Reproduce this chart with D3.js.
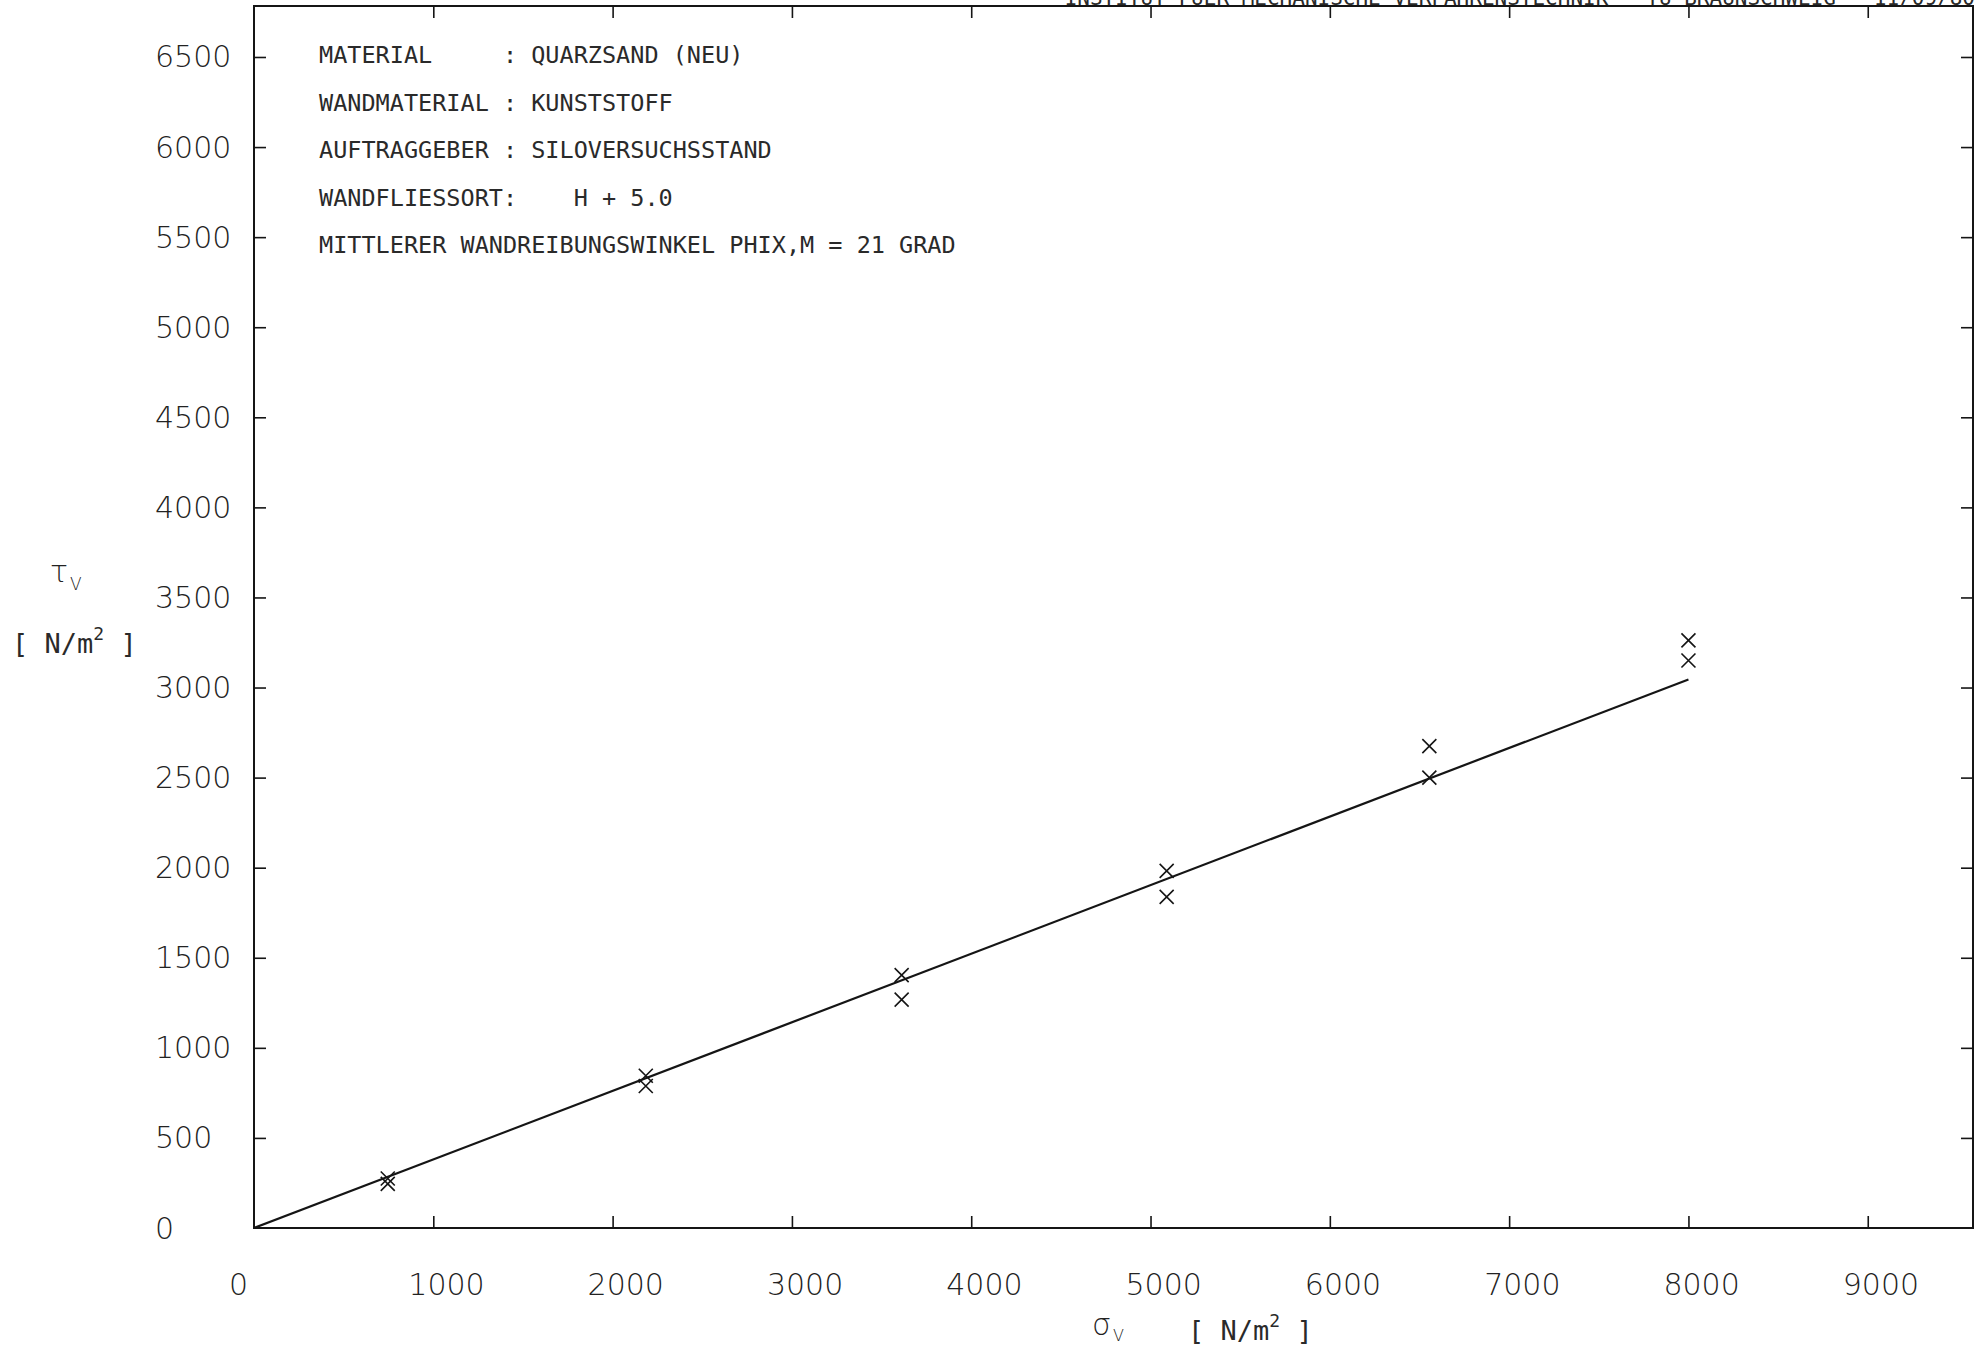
<!DOCTYPE html>
<html>
<head>
<meta charset="utf-8">
<script src="https://cdn.jsdelivr.net/npm/d3@7/dist/d3.min.js"></script>
<style>
  html, body { margin: 0; padding: 0; background: #fff; }
  svg { display: block; }
  .tick-label { font-family: "DejaVu Sans", sans-serif; font-weight: 200; font-stretch: condensed; font-size: 30px; fill: #222; }
  .mono { font-family: "DejaVu Sans Mono", "Liberation Mono", monospace; fill: #2a2a2a; }
</style>
</head>
<body>
<script>
// ---- Data ----
const sigmaV = [746, 746, 2185, 2185, 3612, 3612, 5090, 5090, 6555, 6555, 8000, 8000];
const tauV   = [275, 245, 845, 788, 1404, 1268, 1982, 1838, 2675, 2500, 3262, 3150];
const fitSigma = [0, 8000];
const fitTau   = [0, 3045];
const xTicks = [1000, 2000, 3000, 4000, 5000, 6000, 7000, 8000, 9000];
const yTicks = [500, 1000, 1500, 2000, 2500, 3000, 3500, 4000, 4500, 5000, 5500, 6000, 6500];
const xTickLabels = ["0", "1000", "2000", "3000", "4000", "5000", "6000", "7000", "8000", "9000"];
const yTickLabels = ["0", "500", "1000", "1500", "2000", "2500", "3000", "3500", "4000", "4500", "5000", "5500", "6000", "6500"];
const infoLines = [
  "MATERIAL     : QUARZSAND (NEU)",
  "WANDMATERIAL : KUNSTSTOFF",
  "AUFTRAGGEBER : SILOVERSUCHSSTAND",
  "WANDFLIESSORT:    H + 5.0",
  "MITTLERER WANDREIBUNGSWINKEL PHIX,M = 21 GRAD"
];
const headerText = "INSTITUT FUER MECHANISCHE VERFAHRENSTECHNIK - TU BRAUNSCHWEIG - 11/09/80";

// ---- Layout ----
const W = 1983, H = 1350;
const pLeft = 254, pRight = 1973, pTop = 6, pBottom = 1228;

const svg = d3.select("body").append("svg").attr("width", W).attr("height", H);

const x = d3.scaleLinear().domain([0, 9587]).range([pLeft, pRight]);
const y = d3.scaleLinear().domain([0, 6783]).range([pBottom, pTop]);

const ink = "#151515";

// frame
svg.append("rect").attr("x", pLeft).attr("y", pTop)
  .attr("width", pRight - pLeft).attr("height", pBottom - pTop)
  .attr("fill", "none").attr("stroke", ink).attr("stroke-width", 2);

// axes with inward ticks
const tl = 12;
function styleAxis(g) {
  g.select(".domain").remove();
  g.selectAll("line").attr("stroke", ink).attr("stroke-width", 1.6);
}
svg.append("g").attr("transform", `translate(0,${pBottom})`)
  .call(d3.axisTop(x).tickValues(xTicks).tickSize(tl).tickFormat(""))
  .call(styleAxis);
svg.append("g").attr("transform", `translate(0,${pTop})`)
  .call(d3.axisBottom(x).tickValues(xTicks).tickSize(tl).tickFormat(""))
  .call(styleAxis);
svg.append("g").attr("transform", `translate(${pLeft},0)`)
  .call(d3.axisRight(y).tickValues(yTicks).tickSize(tl).tickFormat(""))
  .call(styleAxis);
svg.append("g").attr("transform", `translate(${pRight},0)`)
  .call(d3.axisLeft(y).tickValues(yTicks).tickSize(tl).tickFormat(""))
  .call(styleAxis);

// tick labels (plotter style, left aligned)
const xLabelVals = [0].concat(xTicks);
svg.append("g").selectAll("text").data(xLabelVals).join("text")
  .attr("class", "tick-label")
  .attr("x", d => x(d) - 25)
  .attr("y", 1284)
  .attr("dominant-baseline", "central")
  .text((d, i) => xTickLabels[i]);

const yLabelVals = [0].concat(yTicks);
svg.append("g").selectAll("text").data(yLabelVals).join("text")
  .attr("class", "tick-label")
  .attr("x", 155)
  .attr("y", d => y(d))
  .attr("dominant-baseline", "central")
  .text((d, i) => yTickLabels[i]);

// header (cut off at top, as on the original plot)
svg.append("text").attr("class", "mono")
  .attr("x", 1975).attr("y", 5).attr("text-anchor", "end")
  .attr("font-size", 21).text(headerText);

// info text
svg.append("g").selectAll("text").data(infoLines).join("text")
  .attr("class", "mono")
  .attr("xml:space", "preserve")
  .style("white-space", "pre")
  .attr("x", 319)
  .attr("y", (d, i) => 63 + i * 47.5)
  .attr("font-size", 23.5)
  .text(d => d);

// axis titles
const yt = svg.append("text").attr("class", "tick-label").attr("x", 50).attr("y", 582);
yt.append("tspan").text("τ");
yt.append("tspan").attr("font-size", 17).attr("dy", 8).attr("dx", 2).text("V");
const yu = svg.append("text").attr("class", "mono").attr("font-size", 27)
  .attr("xml:space", "preserve").style("white-space", "pre")
  .attr("x", 12).attr("y", 653);
yu.append("tspan").text("[ N/m");
yu.append("tspan").attr("font-size", 18).attr("dy", -13).text("2");
yu.append("tspan").attr("dy", 13).text(" ]");

const xt = svg.append("text").attr("class", "tick-label").attr("x", 1092).attr("y", 1335);
xt.append("tspan").text("σ");
xt.append("tspan").attr("font-size", 16).attr("dy", 6).attr("dx", 2).text("V");
const xu = svg.append("text").attr("class", "mono").attr("font-size", 27)
  .attr("xml:space", "preserve").style("white-space", "pre")
  .attr("x", 1188).attr("y", 1340);
xu.append("tspan").text("[ N/m");
xu.append("tspan").attr("font-size", 18).attr("dy", -13).text("2");
xu.append("tspan").attr("dy", 13).text(" ]");

// fit line
const line = d3.line().x(d => x(d[0])).y(d => y(d[1]));
svg.append("path")
  .datum(fitSigma.map((s, i) => [s, fitTau[i]]))
  .attr("d", line).attr("fill", "none").attr("stroke", ink).attr("stroke-width", 2.2);

// data markers (X)
const r = 7;
const pts = sigmaV.map((s, i) => [s, tauV[i]]);
svg.append("g").selectAll("path").data(pts).join("path")
  .attr("d", d => {
    const cx = x(d[0]), cy = y(d[1]);
    return `M${cx - r},${cy - r}L${cx + r},${cy + r}M${cx - r},${cy + r}L${cx + r},${cy - r}`;
  })
  .attr("fill", "none").attr("stroke", ink).attr("stroke-width", 1.6);
</script>
</body>
</html>
